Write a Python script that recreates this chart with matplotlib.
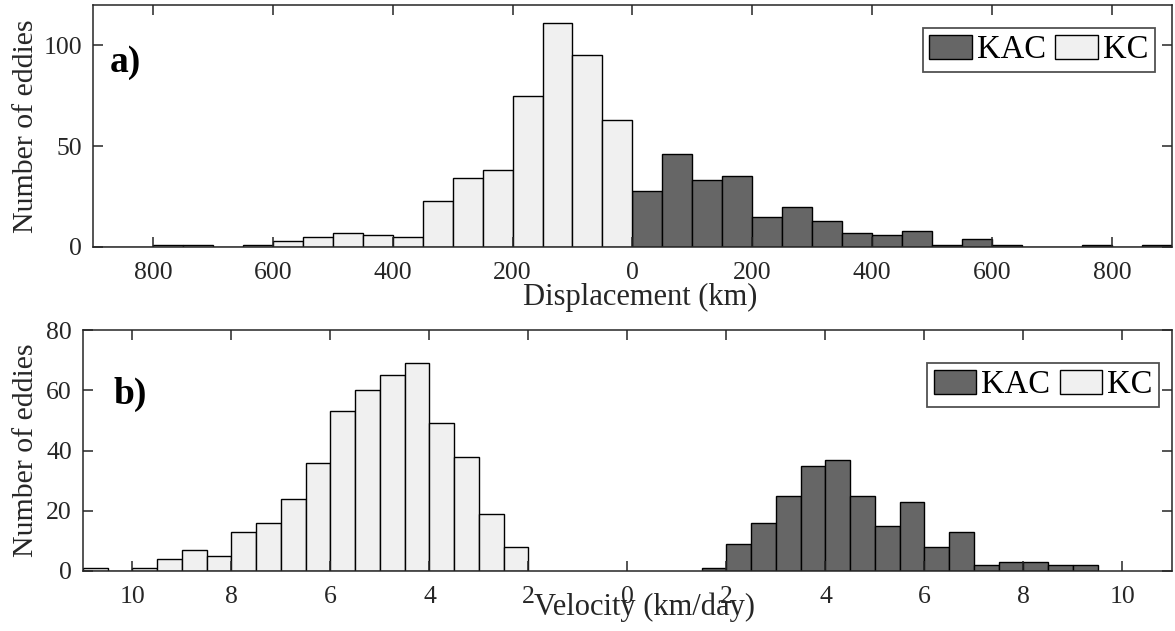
import numpy as np
import matplotlib
matplotlib.use('Agg')
from matplotlib import pyplot as plt
from matplotlib.ticker import FuncFormatter


# displacement histogram, 50 km bins
disp_kc_edges = np.arange(-900, 0, 50)
disp_kc_counts = [0, 0, 1, 1, 0, 1, 3, 5, 7, 6, 5, 23, 34, 38, 75, 111, 95, 63]
disp_kac_edges = np.arange(0, 900, 50)
disp_kac_counts = [28, 46, 33, 35, 15, 20, 13, 7, 6, 8, 1, 4, 1, 0, 0, 1, 0, 1]

# velocity histogram, 0.5 km/day bins
vel_kc_edges = np.arange(-11, -2, 0.5)
vel_kc_counts = [1, 0, 1, 4, 7, 5, 13, 16, 24, 36, 53, 60, 65, 69, 49, 38, 19, 8]
vel_kac_edges = np.arange(1.5, 9.5, 0.5)
vel_kac_counts = [1, 9, 16, 25, 35, 37, 25, 15, 23, 8, 13, 2, 3, 3, 2, 2]

disp_ticks = [-800, -600, -400, -200, 0, 200, 400, 600, 800]
vel_ticks = [-10, -8, -6, -4, -2, 0, 2, 4, 6, 8, 10]

KAC_COLOR = '#666666'
KC_COLOR = '#f0f0f0'
AX_COLOR = '#262626'

plt.rcParams['font.family'] = ['Liberation Serif', 'DejaVu Serif']
plt.rcParams['axes.linewidth'] = 1.1
plt.rcParams['axes.edgecolor'] = AX_COLOR


def style_axes(ax, xlim, ylim, xticks, yticks):
    ax.set_xlim(*xlim)
    ax.set_ylim(*ylim)
    ax.set_xticks(xticks)
    ax.set_yticks(yticks)
    ax.xaxis.set_major_formatter(FuncFormatter(lambda v, p: f'{abs(v):g}'))
    ax.tick_params(direction='in', top=True, right=True, length=7.5, width=1.1,
                   color=AX_COLOR, labelcolor=AX_COLOR, labelsize=18.5)
    ax.tick_params(axis='x', pad=11)
    ax.tick_params(axis='y', pad=8)


def draw_hist(ax, kc_edges, kc_counts, kac_edges, kac_counts, width):
    kac = ax.bar(kac_edges, kac_counts, width=width, align='edge', color=KAC_COLOR,
                 edgecolor='black', linewidth=1.0, label='KAC')
    kc = ax.bar(kc_edges, kc_counts, width=width, align='edge', color=KC_COLOR,
                edgecolor='black', linewidth=1.0, label='KC')
    return kac, kc


def add_legend(ax, anchor):
    leg = ax.legend(loc='upper right', bbox_to_anchor=anchor, ncol=2, fontsize=23.5,
                    frameon=True, fancybox=False, edgecolor=AX_COLOR,
                    handlelength=1.3, handleheight=0.75, handletextpad=0.15,
                    columnspacing=0.3, borderpad=0.2, borderaxespad=0.0)
    leg.get_frame().set_linewidth(1.3)
    return leg


fig = plt.figure(figsize=(11.75, 6.31), dpi=100)

# a) displacement
ax1 = fig.add_axes([0.0791, 0.6086, 0.9183, 0.3835])
draw_hist(ax1, disp_kc_edges, disp_kc_counts, disp_kac_edges, disp_kac_counts, 50)
style_axes(ax1, (-900, 900), (0, 120), disp_ticks, [0, 50, 100])
ax1.set_xlabel('Displacement (km)', fontsize=22, color=AX_COLOR)
ax1.xaxis.set_label_coords(0.507, -0.148)
ax1.set_ylabel('Number of eddies', fontsize=21.5, color=AX_COLOR)
ax1.yaxis.set_label_coords(-0.05, 0.5)
ax1.text(0.016, 0.764, 'a)', transform=ax1.transAxes, fontsize=27,
         fontweight='bold', va='center', ha='left')
add_legend(ax1, (0.984, 0.905))

# b) velocity
ax2 = fig.add_axes([0.0706, 0.0951, 0.9268, 0.3819])
draw_hist(ax2, vel_kc_edges, vel_kc_counts, vel_kac_edges, vel_kac_counts, 0.5)
style_axes(ax2, (-11, 11), (0, 80), vel_ticks, [0, 20, 40, 60, 80])
ax2.set_xlabel('Velocity (km/day)', fontsize=22, color=AX_COLOR)
ax2.xaxis.set_label_coords(0.516, -0.09)
ax2.set_ylabel('Number of eddies', fontsize=21.5, color=AX_COLOR)
ax2.yaxis.set_label_coords(-0.04, 0.5)
ax2.text(0.028, 0.734, 'b)', transform=ax2.transAxes, fontsize=27,
         fontweight='bold', va='center', ha='left')
add_legend(ax2, (0.988, 0.863))

fig.savefig('out.png', dpi=100)
